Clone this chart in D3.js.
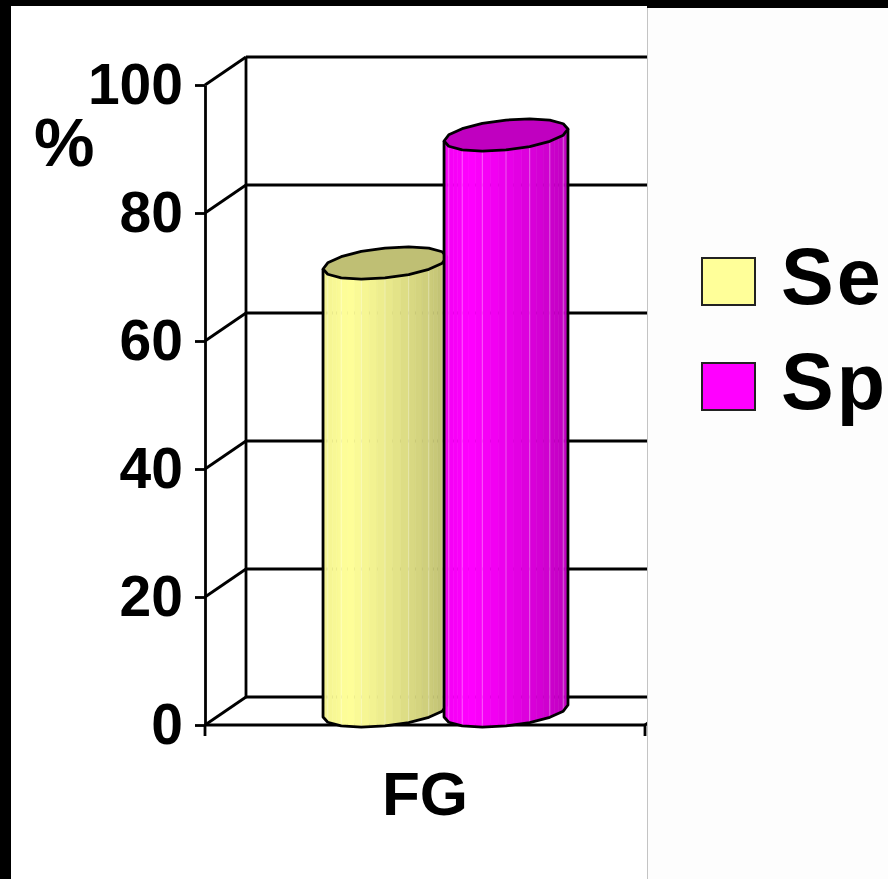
<!DOCTYPE html>
<html>
<head>
<meta charset="utf-8">
<script src="https://cdn.jsdelivr.net/npm/d3@7"></script>
<style>
  html, body { margin: 0; padding: 0; background: #000; }
  svg { display: block; }
  text { font-family: "Liberation Sans", Arial, sans-serif; font-weight: bold; fill: #000; }
</style>
</head>
<body>
<svg id="chart" width="888" height="879"></svg>
<script>
// ---- data ----
const categories = ["FG"];
const seriesNames = ["Se", "Sp"];
const seriesValues = { Se: [70], Sp: [90] };
const seriesColors = { Se: "#ffff99", Sp: "#ff00ff" };
const topColors = { Se: "#bfbf74", Sp: "#c000c0" };
const yTicks = [0, 20, 40, 60, 80, 100];
const yAxisTitle = "%";

// ---- layout ----
const W = 888, H = 879;
const plotLeft = 205, plotRight = 645, plotBottom = 725, plotTop = 85;
const DX = 41, DY = 28;          // oblique depth offset of the back wall
const panelX = 647;              // legend panel edge

const svg = d3.select("#chart");

// white chart area over the black frame
svg.append("rect").attr("x", 11).attr("y", 6).attr("width", panelX - 11).attr("height", H - 6).attr("fill", "#fff");

const y = d3.scaleLinear().domain([0, 100]).range([plotBottom, plotTop]);
const x0 = d3.scaleBand().domain(categories).range([plotLeft, plotRight]).paddingInner(0).paddingOuter(0.409);
const x1 = d3.scaleBand().domain(seriesNames).range([0, x0.bandwidth()]).padding(0);

const lineW = 2.8;
const walls = svg.append("g").attr("stroke", "#000").attr("stroke-width", lineW).attr("fill", "none");

// back wall gridlines
walls.selectAll("line.grid").data(yTicks).join("line")
  .attr("class", "grid")
  .attr("x1", plotLeft + DX).attr("x2", plotRight + DX)
  .attr("y1", d => y(d) - DY).attr("y2", d => y(d) - DY);
// side wall diagonals
walls.selectAll("line.side").data(yTicks).join("line")
  .attr("class", "side")
  .attr("x1", plotLeft).attr("x2", plotLeft + DX)
  .attr("y1", d => y(d)).attr("y2", d => y(d) - DY);
// back wall left edge
walls.append("line")
  .attr("x1", plotLeft + DX).attr("x2", plotLeft + DX)
  .attr("y1", y(0) - DY).attr("y2", y(100) - DY);
// floor right diagonal
walls.append("line")
  .attr("x1", plotRight).attr("x2", plotRight + DX)
  .attr("y1", y(0)).attr("y2", y(0) - DY);

// value axis
const yAxis = d3.axisLeft(y).tickValues(yTicks).tickSize(10).tickSizeOuter(0).tickPadding(12);
const gy = svg.append("g").attr("transform", `translate(${plotLeft},0)`).call(yAxis);
gy.select(".domain").attr("stroke", "#000").attr("stroke-width", lineW);
gy.selectAll(".tick line").attr("stroke", "#000").attr("stroke-width", lineW);
gy.selectAll(".tick text")
  .attr("font-family", "Liberation Sans, Arial, sans-serif")
  .attr("font-weight", "bold").attr("font-size", 57).attr("fill", "#000");

// category axis
const gx = svg.append("g").attr("stroke", "#000").attr("stroke-width", lineW);
gx.append("line").attr("x1", plotLeft).attr("x2", plotRight).attr("y1", y(0)).attr("y2", y(0));
gx.selectAll("line.tk").data([plotLeft, plotRight]).join("line")
  .attr("class", "tk")
  .attr("x1", d => d).attr("x2", d => d).attr("y1", y(0)).attr("y2", y(0) + 11);
svg.selectAll("text.cat").data(categories).join("text")
  .attr("class", "cat")
  .attr("x", d => x0(d) + x0.bandwidth() / 2)
  .attr("y", 815)
  .attr("text-anchor", "middle")
  .attr("font-size", 62)
  .text(d => d);

svg.append("text").attr("x", 34).attr("y", 166).attr("font-size", 68).text(yAxisTitle);

// ---- cylinders ----
const N = 16;                 // outline polygon sides
const SUB = 3;                // shading strips per side
const p = 0.4, q = 0.28;      // oblique skew of the circular cross-section
const phase = Math.atan(p);

function shade(base, u) {
  const f = u < 0.2 ? 0.95 + 0.25 * u : 1 - 0.25 * Math.pow((u - 0.2) / 0.8, 1.15);
  const c = d3.rgb(base);
  return d3.rgb(c.r * f, c.g * f, c.b * f).formatHex();
}

const cyl = svg.append("g");
seriesNames.forEach(s => {
  categories.forEach((cat, ci) => {
    const v = seriesValues[s][ci];
    const bw = x1.bandwidth();
    const rx = bw * 0.512;
    const R = rx / Math.sqrt(1 + p * p);
    const cx = x0(cat) + x1(s) + bw / 2 + DX / 2;
    const yb = y(0) - DY / 2;
    const yt = y(v) - DY / 2;
    const pt = (t, cy) => [cx + R * Math.cos(t) + p * R * Math.sin(t), cy - q * R * Math.sin(t)];
    const g = cyl.append("g");

    // visible side: from the left silhouette (phase+PI) to the right one (phase+2PI)
    const t0 = phase + Math.PI, t1 = phase + 2 * Math.PI;
    const strips = N / 2 * SUB;
    const leftX = cx - rx, width = 2 * rx;
    const lerp = (P, Q, f) => [P[0] + (Q[0] - P[0]) * f, P[1] + (Q[1] - P[1]) * f];
    for (let i = 0; i < strips; i++) {
      const ka = Math.floor(i / SUB), kb = ka + 1;
      // strips follow the polygon edges so the outline stays faceted
      const ea = t0 + (t1 - t0) * ka / (N / 2), eb = t0 + (t1 - t0) * kb / (N / 2);
      const fa = (i % SUB) / SUB, fb = (i % SUB + 1) / SUB;
      const B0 = lerp(pt(ea, yb), pt(eb, yb), fa), B1 = lerp(pt(ea, yb), pt(eb, yb), fb);
      const T0 = lerp(pt(ea, yt), pt(eb, yt), fa), T1 = lerp(pt(ea, yt), pt(eb, yt), fb);
      const u = ((B0[0] + B1[0]) / 2 - leftX) / width;
      const col = shade(seriesColors[s], u);
      g.append("path")
        .attr("d", `M${B0}L${B1}L${T1}L${T0}Z`)
        .attr("fill", col).attr("stroke", col).attr("stroke-width", 0.6);
    }
    // faint facet seams
    for (let k = 1; k < N / 2; k++) {
      const e = t0 + (t1 - t0) * k / (N / 2);
      const Bp = pt(e, yb), Tp = pt(e, yt);
      g.append("line").attr("x1", Bp[0]).attr("y1", Bp[1]).attr("x2", Tp[0]).attr("y2", Tp[1])
        .attr("stroke", "rgba(255,255,255,0.35)").attr("stroke-width", 1);
    }
    // side outline: left edge, front bottom arc, right edge
    const outline = [pt(t0, yt)];
    for (let k = 0; k <= N / 2; k++) outline.push(pt(t0 + (t1 - t0) * k / (N / 2), yb));
    outline.push(pt(t1, yt));
    g.append("path").attr("d", d3.line()(outline))
      .attr("fill", "none").attr("stroke", "#000").attr("stroke-width", lineW).attr("stroke-linejoin", "round");
    // top face
    const top = d3.range(N).map(k => pt(phase + 2 * Math.PI * k / N, yt));
    g.append("path").attr("d", d3.line()(top) + "Z")
      .attr("fill", topColors[s]).attr("stroke", "#000").attr("stroke-width", lineW).attr("stroke-linejoin", "round");
  });
});

// ---- legend panel ----
svg.append("rect").attr("x", panelX).attr("y", 8).attr("width", W - panelX).attr("height", H - 8).attr("fill", "#fdfdfd");
svg.append("line").attr("x1", panelX + 0.5).attr("x2", panelX + 0.5).attr("y1", 8).attr("y2", H)
  .attr("stroke", "#c4c4c4").attr("stroke-width", 1);

const legend = svg.append("g");
const legendRow = d3.scalePoint().domain(seriesNames).range([258, 363]);
const items = legend.selectAll("g").data(seriesNames).join("g")
  .attr("transform", d => `translate(702,${legendRow(d)})`);
items.append("rect").attr("width", 53).attr("height", 47)
  .attr("fill", d => seriesColors[d]).attr("stroke", "#222").attr("stroke-width", 2);
items.append("text").attr("x", 79).attr("y", 46).attr("font-size", 79)
  .attr("letter-spacing", 3).text(d => d);
</script>
</body>
</html>
